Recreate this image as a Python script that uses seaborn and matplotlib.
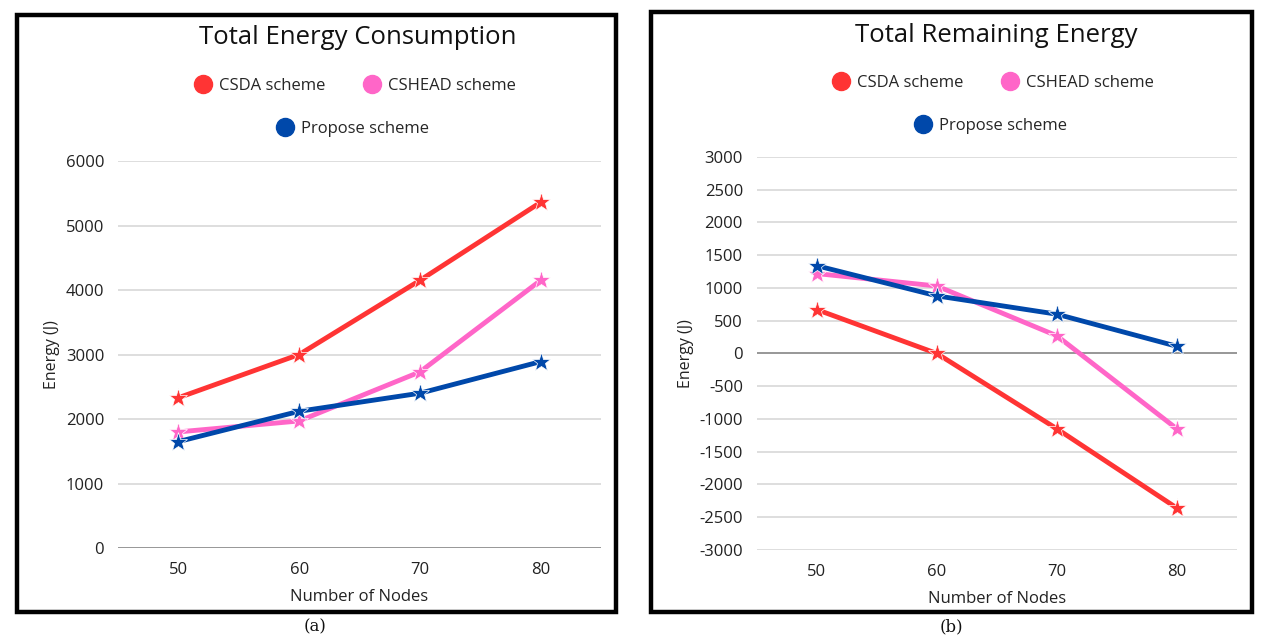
import pandas as pd
import seaborn as sns
import matplotlib

matplotlib.use('Agg')
import matplotlib.pyplot as plt
from matplotlib.patches import Rectangle
from matplotlib.lines import Line2D

# data
nodes = [50, 60, 70, 80]
schemes = ["CSDA scheme", "CSHEAD scheme", "Propose scheme"]

# (a) total energy consumption
csda_used = [2330, 3000, 4150, 5360]
cshead_used = [1800, 1970, 2730, 4150]
propose_used = [1650, 2120, 2400, 2890]

# (b) total remaining energy
csda_left = [670, 0, -1150, -2360]
cshead_left = [1220, 1030, 270, -1150]
propose_left = [1340, 880, 600, 110]

colors = {"CSDA scheme": "#FF3434", "CSHEAD scheme": "#FF66C8", "Propose scheme": "#0048AA"}

sns.set_theme(style="white")
plt.rcParams['font.family'] = ['Open Sans', 'DejaVu Sans']
plt.rcParams['axes.unicode_minus'] = False


def long_df(a, b, c):
    rows = []
    for name, vals in zip(schemes, [a, b, c]):
        for n, v in zip(nodes, vals):
            rows.append({"nodes": n, "energy": v, "scheme": name})
    return pd.DataFrame(rows)


df_used = long_df(csda_used, cshead_used, propose_used)
df_left = long_df(csda_left, cshead_left, propose_left)

fig = plt.figure(figsize=(12.72, 6.39), dpi=100)


def draw_panel(ax, df, yticks, title, box, title_xy, leg_y, tag, tag_x):
    # frame around the panel
    fig.patches.append(Rectangle((box[0], box[1]), box[2], box[3], transform=fig.transFigure,
                                 fill=False, edgecolor="black", linewidth=3.2, zorder=0))
    for y in yticks:
        ax.axhline(y, color="#D4D4D4", linewidth=1.1, zorder=0)
    ax.axhline(0, color="#8C8C8C", linewidth=1.2, zorder=1)
    sns.lineplot(data=df, x="nodes", y="energy", hue="scheme", palette=colors, ax=ax,
                 marker="*", markersize=14, markeredgewidth=0.5, linewidth=3.5,
                 legend=False, zorder=3)
    ax.set_xlim(45, 85)
    ax.set_ylim(yticks[0], yticks[-1])
    ax.set_xticks(nodes)
    ax.set_yticks(yticks)
    ax.tick_params(axis="both", length=0, labelsize=12, colors="#222222", pad=10)
    for s in ax.spines.values():
        s.set_visible(False)
    ax.set_xlabel("Number of Nodes", fontsize=12, color="#222222", labelpad=8)
    ax.set_ylabel("Energy (J)", fontsize=11.5, color="#222222", labelpad=4)
    ax.patch.set_alpha(0)

    fig.text(title_xy[0], title_xy[1], title, ha="center", va="center", fontsize=18.5, color="#111111")

    handles = [Line2D([], [], marker="o", linestyle="", markersize=13, color=colors[s]) for s in schemes]
    fig.legend(handles[:2], schemes[:2], loc="center", bbox_to_anchor=(title_xy[0] - 0.002, leg_y[0]), ncol=2,
               frameon=False, fontsize=12, handletextpad=0.45, columnspacing=2.3, handlelength=1.0)
    fig.legend(handles[2:], schemes[2:], loc="center", bbox_to_anchor=(title_xy[0] - 0.004, leg_y[1]),
               frameon=False, fontsize=12, handletextpad=0.45, handlelength=1.0)

    fig.text(tag_x, 0.019, tag, ha="center", va="center",
             fontsize=12, family="DejaVu Serif", color="#111111")


ax1 = fig.add_axes([0.0928, 0.1424, 0.3797, 0.6056])
draw_panel(ax1, df_used, [0, 1000, 2000, 3000, 4000, 5000, 6000], "Total Energy Consumption",
           (0.0134, 0.0423, 0.4709, 0.9342), (0.2814, 0.942), (0.865, 0.798), "(a)", 0.248)

ax2 = fig.add_axes([0.595, 0.1393, 0.3774, 0.615])
draw_panel(ax2, df_left, list(range(-3000, 3001, 500)), "Total Remaining Energy",
           (0.5118, 0.0423, 0.4725, 0.9389), (0.783, 0.9437), (0.870, 0.803), "(b)", 0.748)

fig.savefig("out.png", dpi=100)
